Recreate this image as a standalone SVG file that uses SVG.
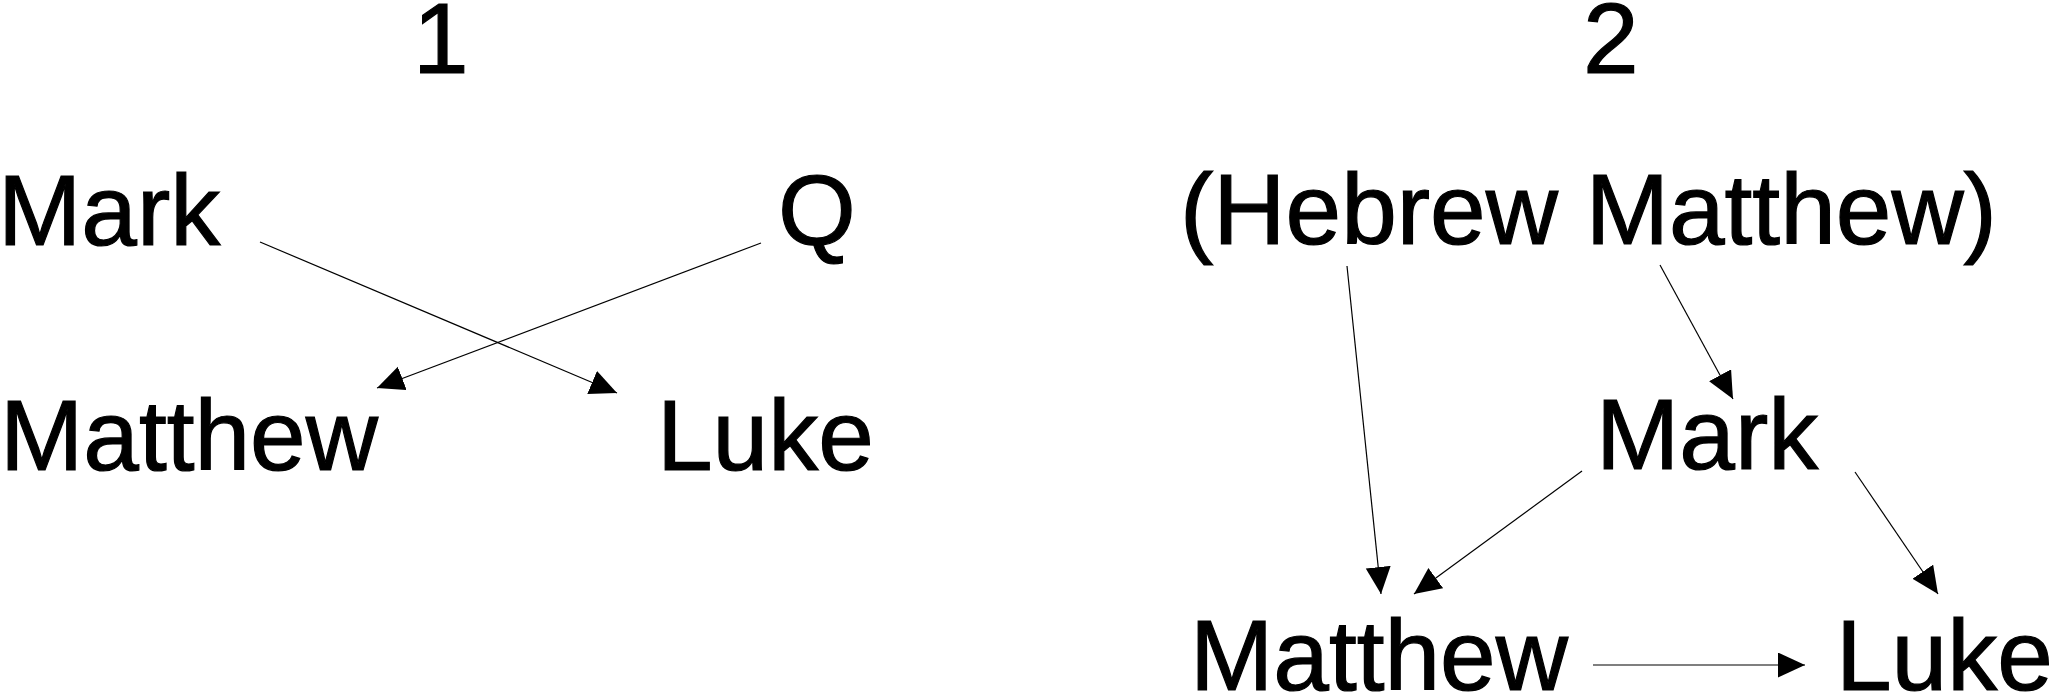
<svg xmlns="http://www.w3.org/2000/svg" width="2049" height="693" viewBox="0 0 2049 693">
  <style>
    .lbl { font-family: "Liberation Sans", Arial, sans-serif; font-size: 100px; fill: #000; stroke: #000; stroke-width: 1.2; }
    .edge { stroke: #000; stroke-width: 1.2; fill: none; marker-end: url(#arrow); }
  </style>
  <defs>
    <marker id="arrow" markerUnits="userSpaceOnUse" markerWidth="28" markerHeight="26" refX="27" refY="12.5" orient="auto">
      <path d="M0,0 L27,12.5 L0,25 Z" fill="#000"/>
    </marker>
  </defs>
  <rect width="2049" height="693" fill="#fff"/>
  <g id="title1"><text class="lbl" x="413" y="73">1</text></g>
  <g id="title2"><text class="lbl" x="1583" y="73">2</text></g>
  <g id="n1-mark"><text class="lbl" x="-2" y="245">Mark</text></g>
  <g id="n1-q"><text class="lbl" x="778" y="245">Q</text></g>
  <g id="n1-matthew"><text class="lbl" x="0" y="470">Matthew</text></g>
  <g id="n1-luke"><text class="lbl" x="657" y="470">Luke</text></g>
  <g id="n2-hebrew"><text class="lbl" x="1180" y="244">(Hebrew Matthew)</text></g>
  <g id="n2-mark"><text class="lbl" x="1596" y="469">Mark</text></g>
  <g id="n2-matthew"><text class="lbl" x="1190" y="690">Matthew</text></g>
  <g id="n2-luke"><text class="lbl" x="1836" y="690">Luke</text></g>
  <g id="connectors">
    <line class="edge" x1="260" y1="242" x2="617" y2="393"/>
    <line class="edge" x1="761" y1="243" x2="377" y2="388"/>
    <line class="edge" x1="1347" y1="266" x2="1381" y2="594"/>
    <line class="edge" x1="1660" y1="265" x2="1733" y2="399"/>
    <line class="edge" x1="1582" y1="471" x2="1414" y2="594"/>
    <line class="edge" x1="1855" y1="472" x2="1938" y2="594"/>
    <line class="edge" x1="1593" y1="665" x2="1805" y2="665"/>
  </g>
</svg>
